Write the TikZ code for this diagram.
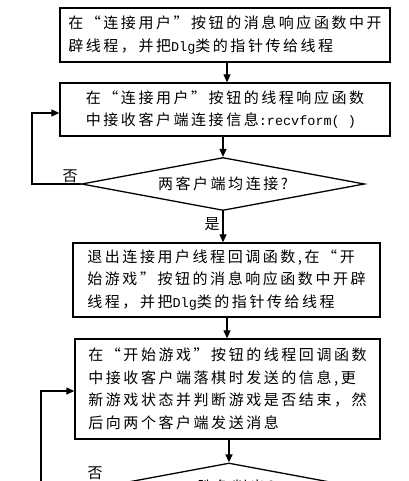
\documentclass[tikz,border=0pt]{standalone}
\usepackage{fontspec}
\usetikzlibrary{shapes.geometric,arrows.meta}
\newfontfamily\cjk[LetterSpace=17]{Noto Sans CJK SC}
\newfontfamily\latf{Liberation Mono}
\newcommand\lt[1]{{\latf\fontsize{13.5}{22}\selectfont #1}}
\begin{document}
\begin{tikzpicture}[x=1pt,y=-1pt,
  every node/.style={font=\cjk\fontsize{15}{22.5}\selectfont},
  procbox/.style={draw,line width=1.4pt,align=left,inner sep=0pt},
  decis/.style={draw,diamond,line width=1.3pt,aspect=5,inner sep=0pt,minimum width=283pt,minimum height=53pt},
  flow/.style={line width=1.3pt,-{Triangle[length=8pt,width=7pt]}},
  lab/.style={inner sep=0pt}]
\useasboundingbox (0,0) rectangle (408,481);
\clip (0,0) rectangle (408,481);
\fill[white] (0,0) rectangle (408,481);
\node[procbox,minimum width=330pt,minimum height=54pt] (b1) at (225,35)
  {在“连接用户”按钮的消息响应函数中开\\辟线程，并把\lt{Dlg}类的指针传给线程};
\node[procbox,minimum width=330pt,minimum height=53pt] (b2) at (225,109.5)
  {在“连接用户”按钮的线程响应函数\\中接收客户端连接信息\lt{:recvform( )}};
\node[decis] (d1) at (223,184) {两客户端均连接?};
\node[procbox,minimum width=307pt,minimum height=74pt] (b3) at (226.5,280)
  {退出连接用户线程回调函数,在“开\\始游戏”按钮的消息响应函数中开辟\\线程，并把\lt{Dlg}类的指针传给线程};
\node[procbox,minimum width=305pt,minimum height=100pt] (b4) at (227.5,389)
  {在“开始游戏”按钮的线程回调函数\\中接收客户端落棋时发送的信息,更\\新游戏状态并判断游戏是否结束，然\\后向两个客户端发送消息};
\node[decis] (d2) at (229,489.5) {};
\node[lab] (t2) at (236,487) {胜负判出?};
\coordinate (c1) at (32,184);
\coordinate (c2) at (32,113);
\coordinate (c3) at (41,520);
\coordinate (c4) at (41,391);
\draw[flow] (b1.south -| 227,0) -- (b2.north -| 227,0);
\draw[flow] (b2.south -| d1.north) -- (d1.north);
\draw[flow] (d1.south) -- (b3.north -| d1.south);
\draw[flow] (b3.south -| 227,0) -- (b4.north -| 227,0);
\draw[flow] (b4.south -| d2.north) -- (d2.north);
\draw[flow] (d1.west) -- (c1) -- (c2) -- (c2 -| b2.west);
\draw[flow] (d2.west) -| (c3) -- (c4) -- (c4 -| b4.west);
\node[lab] (n1) at (70,176) {否};
\node[lab] (y1) at (212,224) {是};
\node[lab] (n2) at (95,473) {否};
\end{tikzpicture}
\end{document}
